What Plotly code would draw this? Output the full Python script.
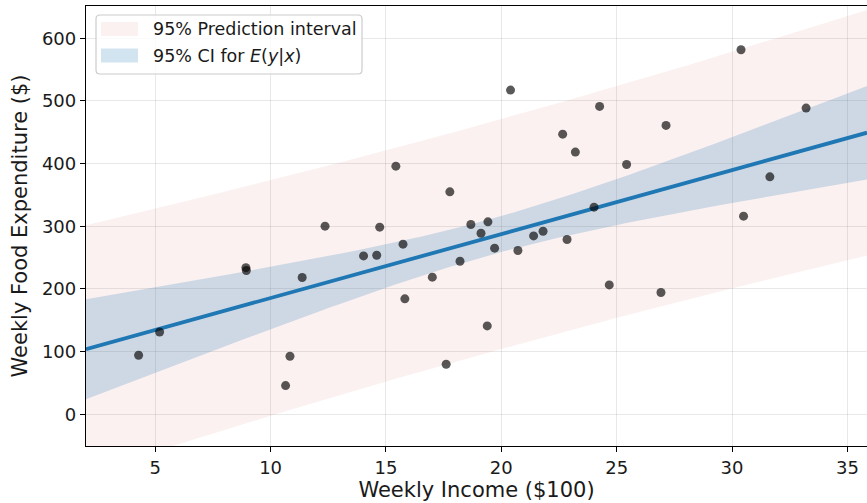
import numpy as np
import plotly.graph_objects as go

# Data
income = [4.28, 5.19, 8.93, 8.95, 10.65, 10.84, 11.37, 12.36, 14.03, 14.60,
          14.73, 15.43, 15.74, 15.82, 17.01, 17.61, 17.77, 18.21, 18.68, 19.12,
          19.39, 19.42, 19.71, 20.40, 20.72, 21.40, 21.81, 22.66, 22.85, 23.21,
          24.02, 24.26, 24.68, 25.43, 26.92, 27.14, 30.39, 30.50, 31.64, 33.21]
food_exp = [94.2, 131.4, 234.0, 229.5, 45.8, 92.6, 218.3, 300.2, 252.8, 253.9,
            298.6, 396.0, 271.5, 184.2, 218.8, 79.8, 355.0, 244.3, 302.9, 289.0,
            141.0, 307.1, 265.1, 517.4, 261.4, 284.7, 292.2, 447.1, 279.0, 418.4,
            330.6, 491.4, 206.5, 398.7, 194.3, 461.0, 581.8, 316.2, 379.0, 488.7]

# Fitted model shown in the reference
intercept = 83.42
slope = 10.21
resid_se = 89.52
n_obs = 40
x_mean = 19.60
sxx = 1828.8
t_crit = 2.024  # t(0.975, df=38)

legend_labels = ["95% Prediction interval", "95% CI for <i>E</i>(<i>y</i>|<i>x</i>)"]
x_ticks = [5, 10, 15, 20, 25, 30, 35]
y_ticks = [0, 100, 200, 300, 400, 500, 600]

X_RANGE = [2.0, 35.85]
Y_RANGE = [-50.6, 651.6]

xg = np.linspace(X_RANGE[0], X_RANGE[1], 200)
yg = intercept + slope * xg
se_mean = resid_se * np.sqrt(1 / n_obs + (xg - x_mean) ** 2 / sxx)
se_pred = resid_se * np.sqrt(1 + 1 / n_obs + (xg - x_mean) ** 2 / sxx)
ci_lo, ci_hi = yg - t_crit * se_mean, yg + t_crit * se_mean
pi_lo, pi_hi = yg - t_crit * se_pred, yg + t_crit * se_pred

PI_COLOR = "rgba(200,70,60,0.075)"
CI_COLOR = "rgba(31,119,180,0.2)"

fig = go.Figure()
fig.add_trace(go.Scatter(
    x=np.concatenate([xg, xg[::-1]]), y=np.concatenate([pi_hi, pi_lo[::-1]]),
    fill="toself", fillcolor=PI_COLOR, line=dict(width=0), mode="lines",
    showlegend=False, hoverinfo="skip"))
fig.add_trace(go.Scatter(
    x=np.concatenate([xg, xg[::-1]]), y=np.concatenate([ci_hi, ci_lo[::-1]]),
    fill="toself", fillcolor=CI_COLOR, line=dict(width=0), mode="lines",
    showlegend=False, hoverinfo="skip"))
fig.add_trace(go.Scatter(
    x=xg, y=yg, mode="lines", line=dict(color="#1f77b4", width=3.8),
    showlegend=False))
fig.add_trace(go.Scatter(
    x=income, y=food_exp, mode="markers",
    marker=dict(color="rgba(0,0,0,0.65)", size=9, line=dict(width=0)),
    showlegend=False))

# ---- custom legend (matplotlib-style box with filled swatches) ----
ML, MT, MB, W, H = 86, 6, 57, 867, 503
PW, PH = W - ML, H - MT - MB


def px(xp):
    return (xp - ML) / PW


def py(yp):
    return (H - MB - yp) / PH


def rounded_rect(x0, y0, x1, y1, r):
    rx, ry = r / PW, r / PH
    X0, X1, Y0, Y1 = px(x0), px(x1), py(y1), py(y0)  # Y0 bottom, Y1 top
    return (f"M{X0+rx},{Y0} L{X1-rx},{Y0} Q{X1},{Y0} {X1},{Y0+ry} "
            f"L{X1},{Y1-ry} Q{X1},{Y1} {X1-rx},{Y1} L{X0+rx},{Y1} "
            f"Q{X0},{Y1} {X0},{Y1-ry} L{X0},{Y0+ry} Q{X0},{Y0} {X0+rx},{Y0} Z")


shapes = [
    dict(type="path", xref="paper", yref="paper", layer="above",
         path=rounded_rect(96, 15, 362, 74, 4),
         fillcolor="rgba(255,255,255,0.8)", line=dict(color="#cccccc", width=1.2)),
]
swatch_colors = [PI_COLOR, CI_COLOR]
row_y = [29, 55.5]
for c, yc in zip(swatch_colors, row_y):
    shapes.append(dict(type="rect", xref="paper", yref="paper", layer="above",
                       x0=px(101), x1=px(138), y0=py(yc + 7), y1=py(yc - 7),
                       fillcolor=c, line=dict(width=0)))
annotations = [
    dict(xref="paper", yref="paper", x=px(151), y=py(yc), text=t, showarrow=False,
         xanchor="left", yanchor="middle",
         font=dict(family="DejaVu Sans", size=17.5, color="#1a1a1a"))
    for t, yc in zip(legend_labels, row_y)
]

axis_common = dict(
    showgrid=True, gridcolor="rgba(0,0,0,0.09)", gridwidth=1, automargin=False,
    zeroline=False, ticks="outside", ticklen=5, tickwidth=1.2, tickcolor="black",
    linecolor="black", linewidth=1.3, showline=True,
    tickfont=dict(family="DejaVu Sans", size=18, color="#1a1a1a"),
)

fig.update_layout(
    width=W, height=H,
    margin=dict(l=ML, r=0, t=MT, b=MB),
    paper_bgcolor="white", plot_bgcolor="white",
    font=dict(family="DejaVu Sans", color="#1a1a1a"),
    xaxis=dict(range=X_RANGE, tickvals=x_ticks, mirror=True,
               title=dict(text="Weekly Income ($100)", font=dict(size=21), standoff=4),
               **axis_common),
    yaxis=dict(range=Y_RANGE, tickvals=y_ticks, mirror=False,
               title=dict(text="Weekly Food Expenditure ($)", font=dict(size=21), standoff=8),
               **axis_common),
    shapes=shapes,
    annotations=annotations,
    showlegend=False,
)

fig.write_html("out.html", config={"displayModeBar": False},
               post_script="document.body.style.margin='0';")
